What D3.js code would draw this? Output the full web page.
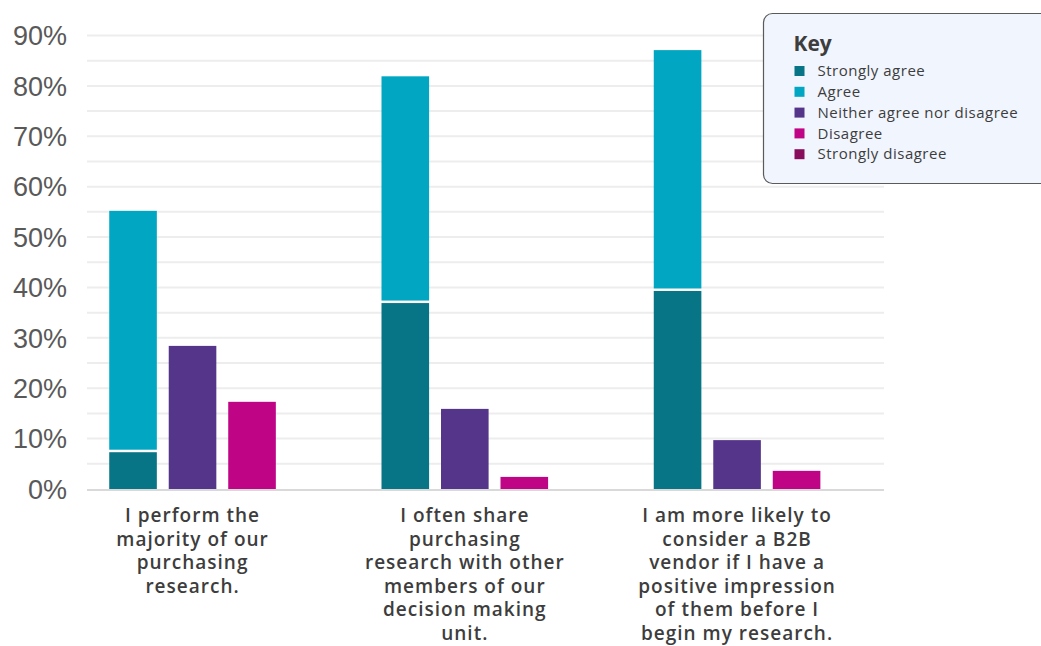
<!DOCTYPE html>
<html>
<head>
<meta charset="utf-8">
<script src="https://cdn.jsdelivr.net/npm/d3@7"></script>
<style>
  html, body { margin: 0; padding: 0; background: #ffffff; }
  svg { display: block; }
</style>
</head>
<body>
<svg id="chart" width="1041" height="646"></svg>
<script>
// Survey statements (each label split into display lines)
const categories = ["perform", "share", "impression"];
const categoryLines = [
  ["I perform the", "majority of our", "purchasing", "research."],
  ["I often share", "purchasing", "research with other", "members of our", "decision making", "unit."],
  ["I am more likely to", "consider a B2B", "vendor if I have a", "positive impression", "of them before I", "begin my research."]
];

// Response shares, percent of respondents
const stronglyAgree    = [7.3, 36.9, 39.3];
const agree            = [47.9, 45.0, 47.8];
const neither          = [28.4, 15.9, 9.7];
const disagree         = [17.3, 2.4, 3.6];
const stronglyDisagree = [0, 0, 0];

const seriesNames = ["Strongly agree", "Agree", "Neither agree nor disagree", "Disagree", "Strongly disagree"];
const seriesColors = ["#077585", "#00a6c2", "#553589", "#c00486", "#880e5c"];
const yTicks = [0, 10, 20, 30, 40, 50, 60, 70, 80, 90];
const gridValues = d3.range(0, 91, 5);

const svg = d3.select("#chart");
const textFont = "'Open Sans', Lato, sans-serif";

const plotLeft = 87, plotRight = 884;
const y = d3.scaleLinear().domain([0, 90]).range([489, 35.5]);

const x = d3.scaleBand().domain(categories).range([56.4, 873.2]).paddingInner(0).paddingOuter(0);
const slots = ["stack", "neither", "disagree"];
const xInner = d3.scaleBand().domain(slots).range([-83.3, 83.3]).paddingInner(0.2).paddingOuter(0);
const center = c => x(c) + x.bandwidth() / 2;

// horizontal gridlines every 5%
svg.append("g")
  .selectAll("line")
  .data(gridValues.filter(v => v > 0))
  .join("line")
  .attr("x1", plotLeft).attr("x2", plotRight)
  .attr("y1", d => y(d)).attr("y2", d => y(d))
  .attr("stroke", "#ededed").attr("stroke-width", 2);

// y axis labels
const yAxis = d3.axisLeft(y).tickValues(yTicks).tickFormat(d => d + "%").tickSize(0).tickPadding(0);
const yg = svg.append("g").attr("transform", "translate(67,0)").call(yAxis);
yg.select(".domain").remove();
yg.selectAll("text")
  .attr("font-family", "'Liberation Sans', Arial, sans-serif")
  .attr("font-size", 27)
  .attr("fill", "#595959")
  .attr("dy", "0.34em");

// bars
const bars = svg.append("g");
categories.forEach((c, i) => {
  const cx = center(c);
  const w = xInner.bandwidth();
  // stacked: strongly agree at the bottom, agree on top
  bars.append("rect")
    .attr("x", cx + xInner("stack")).attr("width", w)
    .attr("y", y(stronglyAgree[i])).attr("height", y(0) - y(stronglyAgree[i]))
    .attr("fill", seriesColors[0]);
  const top = stronglyAgree[i] + agree[i];
  bars.append("rect")
    .attr("x", cx + xInner("stack")).attr("width", w)
    .attr("y", y(top)).attr("height", Math.max(0, y(stronglyAgree[i]) - y(top) - 2.5))
    .attr("fill", seriesColors[1]);
  bars.append("rect")
    .attr("x", cx + xInner("neither")).attr("width", w)
    .attr("y", y(neither[i])).attr("height", y(0) - y(neither[i]))
    .attr("fill", seriesColors[2]);
  bars.append("rect")
    .attr("x", cx + xInner("disagree")).attr("width", w)
    .attr("y", y(disagree[i])).attr("height", y(0) - y(disagree[i]))
    .attr("fill", seriesColors[3]);
  if (stronglyDisagree[i] > 0) {
    bars.append("rect")
      .attr("x", cx + xInner("disagree") + w + 4).attr("width", w)
      .attr("y", y(stronglyDisagree[i])).attr("height", y(0) - y(stronglyDisagree[i]))
      .attr("fill", seriesColors[4]);
  }
});

// baseline
svg.append("line")
  .attr("x1", plotLeft).attr("x2", plotRight)
  .attr("y1", y(0) + 1).attr("y2", y(0) + 1)
  .attr("stroke", "#d9d9d9").attr("stroke-width", 2);

// category labels
const labels = svg.append("g")
  .attr("font-family", textFont)
  .attr("font-weight", 600)
  .attr("font-size", 19)
  .attr("letter-spacing", 1)
  .attr("fill", "#3d3d3d")
  .attr("text-anchor", "middle");
categories.forEach((c, i) => {
  const t = labels.append("text").attr("x", center(c)).attr("y", 522);
  t.selectAll("tspan")
    .data(categoryLines[i])
    .join("tspan")
    .attr("x", center(c))
    .attr("dy", (d, j) => j === 0 ? 0 : 23.6)
    .text(d => d);
});

// legend box
const lg = svg.append("g").attr("transform", "translate(763.5,13.5)");
lg.append("rect")
  .attr("width", 300).attr("height", 170)
  .attr("rx", 9).attr("ry", 9)
  .attr("fill", "#f1f5fd")
  .attr("stroke", "#5a5a5a").attr("stroke-width", 1.2);
lg.append("text")
  .attr("x", 30).attr("y", 37)
  .attr("font-family", textFont)
  .attr("font-weight", 700).attr("font-size", 21)
  .attr("fill", "#3d3d3d")
  .text("Key");
const items = lg.selectAll("g.item")
  .data(seriesNames)
  .join("g")
  .attr("class", "item")
  .attr("transform", (d, i) => `translate(31,${57.5 + i * 20.8})`);
items.append("rect")
  .attr("x", 0).attr("y", -5).attr("width", 10).attr("height", 10)
  .attr("fill", (d, i) => seriesColors[i]);
items.append("text")
  .attr("x", 23).attr("y", 0).attr("dy", "0.35em")
  .attr("font-family", textFont)
  .attr("font-size", 15)
  .attr("letter-spacing", 0.5)
  .attr("fill", "#3d3d3d")
  .text(d => d);
</script>
</body>
</html>
